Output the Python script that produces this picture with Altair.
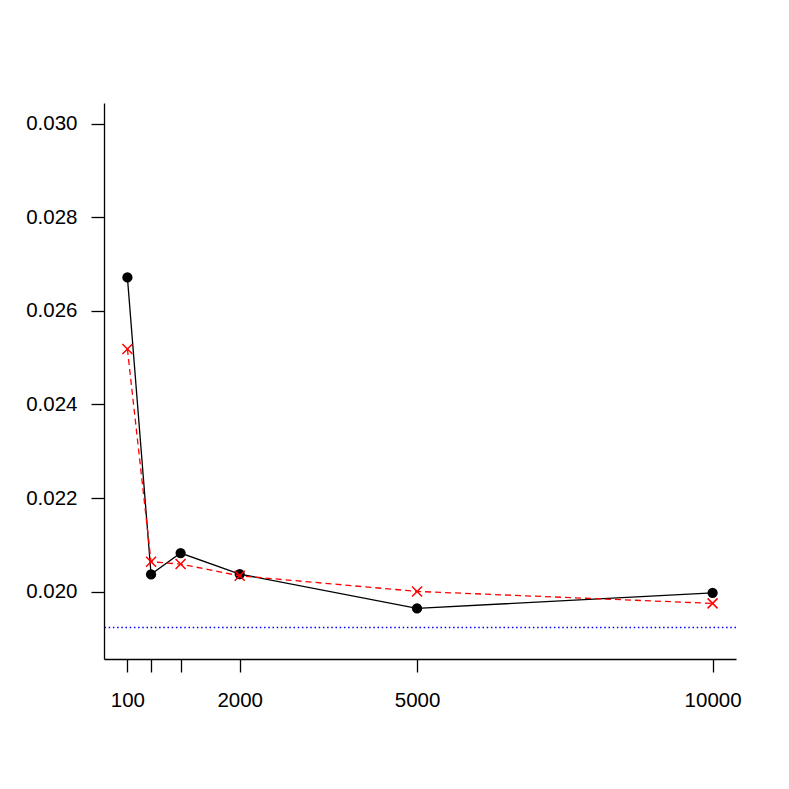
import altair as alt
import pandas as pd

# Data
x_vals = [100, 500, 1000, 2000, 5000, 10000]
black_vals = [0.026714, 0.020368, 0.020823, 0.020374, 0.019641, 0.019974]
red_vals = [0.025182, 0.020637, 0.020588, 0.020338, 0.020004, 0.019748]
blue_level = [0.019235]
x_ticks = [100, 500, 1000, 2000, 5000, 10000]
x_labels_shown = [100, 2000, 5000, 10000]
y_ticks = [0.020, 0.022, 0.024, 0.026, 0.028, 0.030]

black_df = pd.DataFrame({"x": x_vals, "y": black_vals})
red_df = pd.DataFrame({"x": x_vals, "y": red_vals})
blue_df = pd.DataFrame({"y": blue_level})

FONT = "Liberation Sans"

xscale = alt.Scale(domain=[-296, 10396], nice=False, zero=False)
yscale = alt.Scale(domain=[0.01856, 0.03044], nice=False, zero=False)

shown = " || ".join(f"datum.value == {v}" for v in x_labels_shown)

xaxis = alt.Axis(
    values=x_ticks,
    labelExpr=f"({shown}) ? format(datum.value, 'd') : ''",
    title=None,
    grid=False,
    domainColor="black",
    domainWidth=1.3,
    tickColor="black",
    tickWidth=1.3,
    tickSize=13,
    labelPadding=18,
    labelFont=FONT,
    labelFontSize=20.5,
    labelColor="black",
    labelFlush=False,
    labelOverlap=False,
)
yaxis = alt.Axis(
    values=y_ticks,
    format=".3f",
    title=None,
    grid=False,
    domainColor="black",
    domainWidth=1.3,
    tickColor="black",
    tickWidth=1.3,
    tickSize=13,
    labelPadding=14,
    labelFont=FONT,
    labelFontSize=20.5,
    labelColor="black",
    labelFlush=False,
    labelOverlap=False,
)

x_enc = alt.X("x:Q", scale=xscale, axis=xaxis)
y_enc = alt.Y("y:Q", scale=yscale, axis=yaxis)

blue = alt.Chart(blue_df).mark_rule(
    stroke="#0000FF", color="#0000FF", strokeWidth=1.5, strokeDash=[1.5, 2.7],
    strokeOpacity=1
).encode(
    y=alt.Y("y:Q", scale=yscale, axis=yaxis),
)

black_line = alt.Chart(black_df).mark_line(strokeWidth=1.3).encode(
    x=x_enc, y=y_enc, color=alt.value("black")
)
black_pts = alt.Chart(black_df).mark_point(
    shape="circle", filled=True, size=105, opacity=1
).encode(x=x_enc, y=y_enc, color=alt.value("black"))

red_line = alt.Chart(red_df).mark_line(
    strokeWidth=1.3, strokeDash=[6, 4]
).encode(x=x_enc, y=y_enc, color=alt.value("#FF0000"))
red_pts = alt.Chart(red_df).mark_point(
    shape="M-1,-1L1,1M-1,1L1,-1", filled=False, size=100,
    strokeWidth=1.5, opacity=1
).encode(x=x_enc, y=y_enc, color=alt.value("#FF0000"))

chart = (
    alt.layer(blue, black_line, black_pts, red_line, red_pts)
    .properties(
        width=632,
        height=556,
        autosize=alt.AutoSizeParams(type="none"),
        padding={"left": 96, "top": 95, "right": 45, "bottom": 115},
        background="white",
    )
    .configure_view(stroke=None)
)

chart.save("out.html", embed_options={"renderer": "svg", "actions": False})
